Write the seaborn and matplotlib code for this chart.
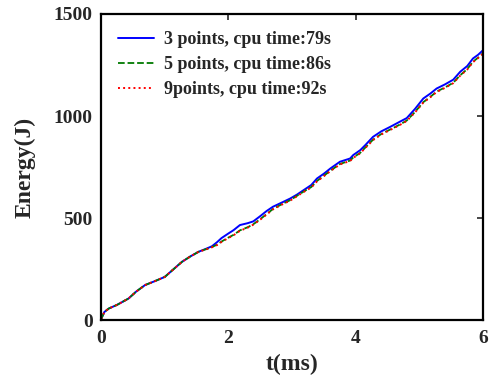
import numpy as np
import pandas as pd
import seaborn as sns
import matplotlib.pyplot as plt

# values
t_ms = [0.0, 0.05, 0.12, 0.25, 0.43, 0.55, 0.69, 0.85, 1.0, 1.12, 1.27, 1.4, 1.53,
        1.65, 1.74, 1.82, 1.89, 2.0, 2.08, 2.18, 2.3, 2.39, 2.5, 2.6, 2.7, 2.85,
        2.97, 3.08, 3.18, 3.3, 3.39, 3.5, 3.6, 3.75, 3.91, 3.96, 4.07, 4.15,
        4.27, 4.4, 4.54, 4.69, 4.8, 4.93, 5.06, 5.17, 5.27, 5.4, 5.53, 5.64,
        5.75, 5.84, 5.92, 6.0]
e_3pts = [5, 40, 57, 75, 106, 140, 172, 192, 212, 245, 286, 312, 335,
          350, 362, 382, 402, 425, 441, 466, 475, 484, 510, 535, 556, 578,
          596, 616, 637, 662, 694, 718, 743, 776, 792, 809, 833, 858,
          898, 925, 947, 972, 990, 1035, 1086, 1110, 1135, 1155, 1178, 1217,
          1245, 1282, 1300, 1323]
e_5pts = [5, 40, 57, 75, 106, 140, 172, 192, 212, 245, 286, 312, 335,
          348, 358, 370, 385, 405, 418, 440, 455, 470, 495, 520, 545, 570,
          588, 610, 630, 652, 682, 708, 732, 765, 782, 797, 820, 846,
          884, 912, 934, 958, 978, 1020, 1068, 1094, 1120, 1140, 1163, 1200,
          1230, 1266, 1286, 1308]
e_9pts = [5, 40, 57, 75, 106, 140, 172, 192, 212, 245, 286, 312, 335,
          347, 357, 368, 383, 403, 416, 438, 453, 468, 493, 518, 543, 568,
          586, 608, 628, 650, 680, 706, 730, 763, 780, 795, 818, 844,
          882, 910, 932, 956, 976, 1018, 1066, 1092, 1118, 1138, 1161, 1198,
          1228, 1264, 1284, 1306]
labels = ["3 points, cpu time:79s", "5 points, cpu time:86s", "9points, cpu time:92s"]

sns.set_style("white")
plt.rcParams['font.family'] = ['Liberation Serif', 'DejaVu Serif']
plt.rcParams['font.weight'] = 'bold'

fig = plt.figure(figsize=(4.91, 3.78), dpi=100)
ax = fig.add_axes([0.206, 0.153, 0.778, 0.81])

sns.lineplot(x=t_ms, y=e_3pts, ax=ax, color='#0000ff', linestyle='-', lw=1.4, label=labels[0])
sns.lineplot(x=t_ms, y=e_5pts, ax=ax, color='#007a00', linestyle='--', lw=1.3, label=labels[1])
sns.lineplot(x=t_ms, y=e_9pts, ax=ax, color='#ff0000', linestyle=':', lw=1.4, label=labels[2])

ax.set_xlim(0, 6)
ax.set_ylim(0, 1500)
ax.set_xticks([0, 2, 4, 6])
ax.set_yticks([0, 500, 1000, 1500])
ax.tick_params(direction='in', length=4, width=1.2, top=True, right=True,
               labelsize=14)
ax.tick_params(axis='y', pad=6)
ax.tick_params(axis='x', pad=7)
for lab in ax.get_xticklabels() + ax.get_yticklabels():
    lab.set_fontweight('bold')
for s in ax.spines.values():
    s.set_linewidth(1.6)
    s.set_color('black')

ax.set_xlabel('t(ms)', fontsize=17, fontweight='bold', labelpad=5)
ax.set_ylabel('Energy(J)', fontsize=17, fontweight='bold', labelpad=13)

leg = ax.legend(loc='upper left', frameon=False, fontsize=13, handlelength=2.0,
                borderaxespad=0.6, labelspacing=0.45, handletextpad=0.55,
                borderpad=0.35)
for txt in leg.get_texts():
    txt.set_fontweight('bold')

fig.savefig('out.png', dpi=100)
